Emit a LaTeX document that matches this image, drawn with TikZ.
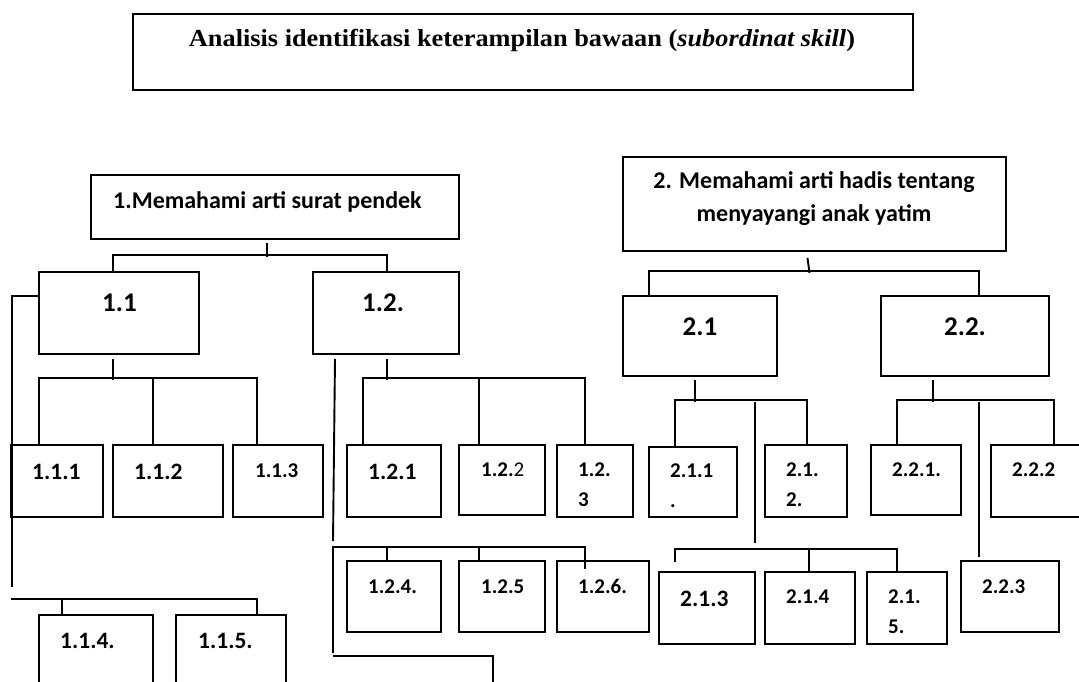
\documentclass[tikz,border=0pt]{standalone}
\usepackage{graphicx}
\usepackage{fontspec}
\setmainfont{Carlito}
\newfontfamily\tnr{Liberation Serif}
\usetikzlibrary{calc,fit}
\newcommand\bx[5]{\coordinate (#1-a) at (#2,#3); \coordinate (#1-b) at (#4,#5); \node[box, fit=(#1-a)(#1-b)] (#1) {};}
\begin{document}
\begin{tikzpicture}[x=1pt,y=-1pt,
  box/.style={draw, line width=1.9pt, inner sep=0pt},
  conn/.style={line width=1.9pt},
  lbl/.style={inner sep=0pt, anchor=base west, align=left, font=\bfseries\fontsize{21}{30}\selectfont},
  lblm/.style={lbl, font=\bfseries\fontsize{23.5}{28}\selectfont},
  lblb/.style={lbl, font=\bfseries\fontsize{27}{32}\selectfont}]
\useasboundingbox (0,0) rectangle (1079,681);
\clip (0,0) rectangle (1079,681);
\fill[white] (0,0) rectangle (1079,681);
% title
\coordinate (t-a) at (133,14); \coordinate (t-b) at (913,90);
\node[draw, line width=2.2pt, inner sep=0pt, fit=(t-a)(t-b)] (t) {};
\node[anchor=base, inner sep=0pt] (tt) at (522,46) {\resizebox{666pt}{\height}{\tnr\bfseries\fontsize{24.5}{28}\selectfont Analisis identifikasi keterampilan bawaan (\textit{subordinat skill})}};
% boxes
\bx{n1}{91}{175}{459}{239}
\bx{n2}{623}{157}{1006}{251}
\bx{n11}{39}{272}{199}{354}
\bx{n12}{313}{272}{459}{354}
\bx{n21}{623}{296}{777}{376}
\bx{n22}{881}{296}{1049}{376}
\bx{n111}{11}{445}{103}{517}
\bx{n112}{113}{445}{223}{517}
\bx{n113}{233}{445}{323}{517}
\bx{n114}{39}{615}{153}{700}
\bx{n115}{176}{615}{286}{700}
\bx{n121}{347}{445}{441}{517}
\bx{n122}{459}{445}{545}{515}
\bx{n123}{557}{445}{633}{517}
\bx{n124}{347}{561}{441}{632}
\bx{n125}{459}{561}{545}{632}
\bx{n126}{557}{561}{649}{632}
\bx{n211}{649}{447}{737}{517}
\bx{n212}{765}{445}{847}{517}
\bx{n213}{659}{572}{755}{644}
\bx{n214}{765}{572}{855}{644}
\bx{n215}{867}{572}{947}{644}
\bx{n221}{871}{445}{961}{515}
\bx{n222}{991}{445}{1095}{517}
\bx{n223}{961}{561}{1059}{632}
% free-end coordinates
\coordinate (c11l) at (12,587);
\coordinate (c11b) at (11,599);
\coordinate (c12l) at (333,541);
\coordinate (c12b) at (333,653);
\coordinate (c12c) at (333,656);
\coordinate (c12d) at (493,700);
\coordinate (c21v) at (755,543);
\coordinate (c21l) at (675,562);
\coordinate (c22v) at (979,557);
% texts (multi-line nodes: base = last line)
\node[lblm, font=\bfseries\fontsize{24}{30}\selectfont] (t1) at (113,208) {1.Memahami arti surat pendek};
\node[inner sep=0pt, anchor=base, align=center, font=\bfseries\fontsize{24}{33}\selectfont] (t2) at (814,221) {2. Memahami arti hadis tentang\\menyayangi anak yatim};
\node[lblb] (t11) at (102,311) {1.1};
\node[lblb] (t12) at (362,311) {1.2.};
\node[lblb, anchor=base] (t21) at (700,335) {2.1};
\node[lblb, anchor=base] (t22) at (965,335) {2.2.};
\node[lblm] (t111) at (32,479) {1.1.1};
\node[lblm] (t112) at (134,479) {1.1.2};
\node[lbl] (t113) at (255,477) {1.1.3};
\node[lblm] (t114) at (60,648) {1.1.4.};
\node[lblm] (t115) at (198,648) {1.1.5.};
\node[lblm] (t121) at (368,479) {1.2.1};
\node[lbl] (t122) at (481,476) {1.2.{\mdseries 2}};
\node[lbl] (t123) at (578,506) {1.2.\\3};
\node[lbl] (t124) at (368,593) {1.2.4.};
\node[lbl] (t125) at (481,593) {1.2.5};
\node[lbl] (t126) at (578,593) {1.2.6.};
\node[lbl] (t211) at (670,507) {2.1.1\\.};
\node[lbl] (t212) at (786,506) {2.1.\\2.};
\node[lbl] (t221) at (892,476) {2.2.1.};
\node[lbl] (t222) at (1012,476) {2.2.2};
\node[lblm] (t213) at (680,606) {2.1.3};
\node[lbl] (t214) at (786,603) {2.1.4};
\node[lbl] (t215) at (888,633) {2.1.\\5.};
\node[lbl] (t223) at (982,593) {2.2.3};
% connectors: level 1
\draw[conn] ($(n1.south)+(-8,3)$) -- ($(n1.south)+(-8,17)$);
\draw[conn] ($(n11.north)+(-6,0)$) |- ($(n12.north)+(1,-16)$) -- ($(n12.north)+(1,0)$);
\draw[conn] ($(n2.south)+(-7,6)$) -- ($(n2.south)+(-5,21)$);
\draw[conn] ($(n21.north)+(-51,0)$) |- ($(n22.north)+(14,-24)$) -- ($(n22.north)+(14,0)$);
% 1.1
\draw[conn] ($(n11.west)+(0,-17)$) -| (c11l);
\draw[conn] (c11b) -| ($(n115.north)+(26,0)$);
\draw[conn] ($(n114.north)+(-34,0)$) -- ($(n114.north)+(-34,-16)$);
\draw[conn] ($(n11.south)+(-6,4)$) -- ($(n11.south)+(-6,25)$);
\draw[conn] ($(n111.north)+(-18,0)$) |- ($(n113.north)+(-21,-66)$) -- ($(n113.north)+(-21,0)$);
\draw[conn] ($(n112.north)+(-15,0)$) -- ($(n112.north)+(-15,-66)$);
% 1.2
\draw[conn] ($(n12.south)+(-51,4)$) -- (c12l);
\draw[conn] ($(n12.south)+(1,4)$) -- ($(n12.south)+(1,25)$);
\draw[conn] ($(n121.north)+(-31,0)$) |- ($(n123.north)+(-10,-66)$) -- ($(n123.north)+(-10,0)$);
\draw[conn] ($(n122.north)+(-23,0)$) -- ($(n122.north)+(-23,-66)$);
\draw[conn] (c12b) |- ($(n126.north)+(-18,-13)$) -- ($(n126.north)+(-18,9)$);
\draw[conn] ($(n124.north)+(-7,0)$) -- ($(n124.north)+(-7,-13)$);
\draw[conn] ($(n125.north)+(-23,0)$) -- ($(n125.north)+(-23,-13)$);
\draw[conn] (c12c) -| (c12d);
% 2.1
\draw[conn] ($(n21.south)+(-5,3)$) -- ($(n21.south)+(-5,25)$);
\draw[conn] ($(n211.north)+(-18,0)$) |- ($(n212.north)+(1,-44)$) -- ($(n212.north)+(1,0)$);
\draw[conn] ($(n21.south)+(55,25)$) -- (c21v);
\draw[conn] (c21l) |- ($(n215.north)+(-10,-22)$) -- ($(n215.north)+(-10,0)$);
\draw[conn] ($(n214.north)+(-1,0)$) -- ($(n214.north)+(-1,-22)$);
% 2.2
\draw[conn] ($(n22.south)+(-32,3)$) -- ($(n22.south)+(-32,25)$);
\draw[conn] ($(n221.north)+(-19,0)$) |- ($(n222.north)+(11,-44)$) -- ($(n222.north)+(11,0)$);
\draw[conn] ($(n22.south)+(14,25)$) -- (c22v);
\end{tikzpicture}
\end{document}
